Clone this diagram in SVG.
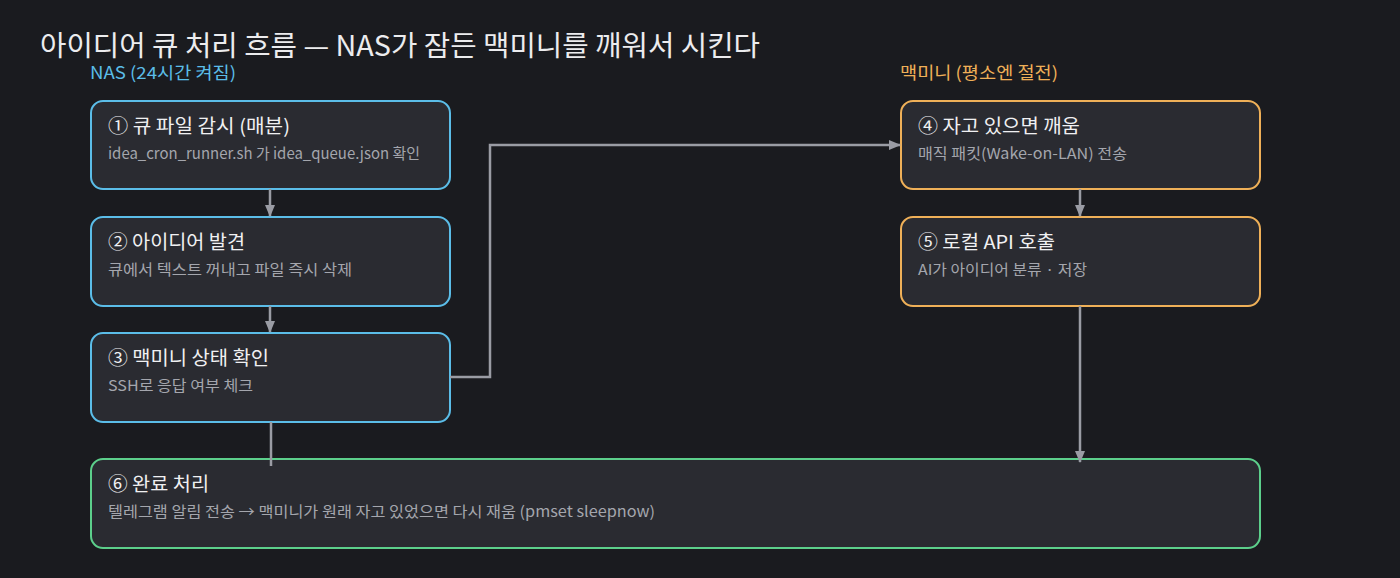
<svg xmlns="http://www.w3.org/2000/svg" width="1400" height="578" viewBox="0 0 1400 578">
<style>
text{font-family:"Noto Sans CJK KR","Noto Sans",sans-serif}
.title{font-size:28px;fill:#ececee}
.lane{font-size:17px}
.box{fill:#2a2b31;stroke-width:2}
.nas{stroke:#5bbde8}
.mac{stroke:#efb058}
.done{stroke:#5ccf8b}
.h{font-size:19px;fill:#f0f0f2}
.s{font-size:15px;fill:#a4a6ad}
.c{fill:none;stroke:#9a9ca4;stroke-width:2.5}
</style>
<defs>
<marker id="ah" markerWidth="12" markerHeight="10" refX="11" refY="5" orient="auto" markerUnits="userSpaceOnUse">
<path d="M0,0 L12,5 L0,10 Z" fill="#9a9ca4"/>
</marker>
</defs>
<rect width="1400" height="578" fill="#1a1b1f"/>
<text class="title" x="40" y="56" textLength="720" lengthAdjust="spacingAndGlyphs">아이디어 큐 처리 흐름 — NAS가 잠든 맥미니를 깨워서 시킨다</text>
<text class="lane" x="90" y="79" fill="#5bbde8" textLength="146" lengthAdjust="spacingAndGlyphs">NAS (24시간 켜짐)</text>
<text class="lane" x="900" y="79" fill="#efb058" textLength="158" lengthAdjust="spacingAndGlyphs">맥미니 (평소엔 절전)</text>

<g id="n1"><rect class="box nas" x="91" y="101" width="359" height="88" rx="12"/>
<text class="h" x="108" y="133" textLength="182" lengthAdjust="spacingAndGlyphs">① 큐 파일 감시 (매분)</text>
<text class="s" x="108" y="159" textLength="312" lengthAdjust="spacingAndGlyphs">idea_cron_runner.sh 가 idea_queue.json 확인</text></g>
<g id="n2"><rect class="box nas" x="91" y="217" width="359" height="89" rx="12"/>
<text class="h" x="108" y="249" textLength="137" lengthAdjust="spacingAndGlyphs">② 아이디어 발견</text>
<text class="s" x="108" y="275" textLength="244" lengthAdjust="spacingAndGlyphs">큐에서 텍스트 꺼내고 파일 즉시 삭제</text></g>
<g id="n3"><rect class="box nas" x="91" y="333" width="359" height="89" rx="12"/>
<text class="h" x="108" y="365" textLength="161" lengthAdjust="spacingAndGlyphs">③ 맥미니 상태 확인</text>
<text class="s" x="108" y="391" textLength="145" lengthAdjust="spacingAndGlyphs">SSH로 응답 여부 체크</text></g>
<g id="n4"><rect class="box mac" x="901" y="101" width="359" height="88" rx="12"/>
<text class="h" x="918" y="133" textLength="162" lengthAdjust="spacingAndGlyphs">④ 자고 있으면 깨움</text>
<text class="s" x="918" y="159" textLength="209" lengthAdjust="spacingAndGlyphs">매직 패킷(Wake-on-LAN) 전송</text></g>
<g id="n5"><rect class="box mac" x="901" y="217" width="359" height="89" rx="12"/>
<text class="h" x="918" y="249" textLength="137" lengthAdjust="spacingAndGlyphs">⑤ 로컬 API 호출</text>
<text class="s" x="918" y="275" textLength="169" lengthAdjust="spacingAndGlyphs">AI가 아이디어 분류 · 저장</text></g>
<g id="n6"><rect class="box done" x="91" y="459" width="1169" height="89" rx="12"/>
<text class="h" x="108" y="491" textLength="101" lengthAdjust="spacingAndGlyphs">⑥ 완료 처리</text>
<text class="s" x="108" y="517" textLength="547" lengthAdjust="spacingAndGlyphs">텔레그램 알림 전송 → 맥미니가 원래 자고 있었으면 다시 재움 (pmset sleepnow)</text></g>

<g id="connectors">
<path class="c" d="M270,189 V216" marker-end="url(#ah)"/>
<path class="c" d="M270,306 V332" marker-end="url(#ah)"/>
<path class="c" d="M450,377 H490 V145 H900" marker-end="url(#ah)"/>
<path class="c" d="M1080,189 V216" marker-end="url(#ah)"/>
<path class="c" d="M1080,306 V462" marker-end="url(#ah)"/>
<path class="c" d="M271,422 V466"/>
</g>
</svg>
